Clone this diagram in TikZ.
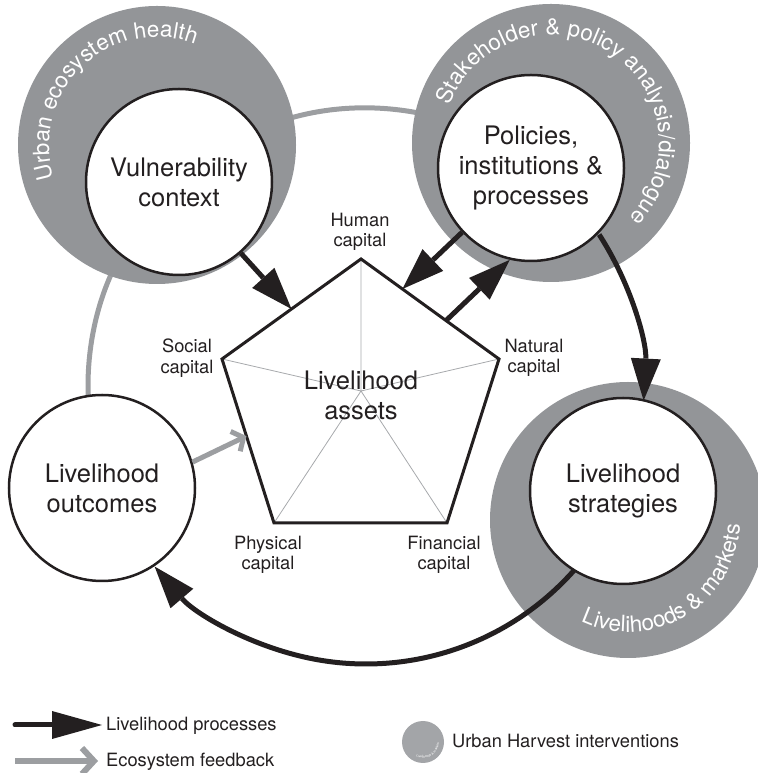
\documentclass[tikz,border=0pt]{standalone}
\usepackage{fontspec}
\setmainfont{TeX Gyre Heros}
\usetikzlibrary{arrows.meta,decorations.text,calc}
\definecolor{ink}{HTML}{231F20}
\definecolor{ringgray}{HTML}{939598}
\definecolor{feedgray}{HTML}{9C9EA1}
\definecolor{spokegray}{HTML}{A7A9AC}
\newcommand\bigf{\fontsize{25.5}{30}\selectfont}
\newcommand\smallf{\fontsize{18.3}{20.5}\selectfont}
\newcommand\ringf{\fontsize{22.5}{22.5}\selectfont}
\newcommand\tinyringf{\fontsize{3.2}{3.2}\selectfont}
\tikzset{
  proc/.style={circle, draw=ink, line width=2.5pt, fill=white, minimum size=186pt, inner sep=0pt, align=center, font=\bigf, text=ink},
  ringfill/.style={fill=ringgray},
  procarrow/.style={draw=ink, line width=5pt, -{Triangle[length=42pt,width=30pt,line width=0pt]}},
  feedback/.style={draw=feedgray, line width=5pt, -{Straight Barb[length=9pt,width=22pt]}},
  caplabel/.style={align=center, font=\smallf, text=ink, inner sep=0pt},
}
\begin{document}
\begin{tikzpicture}[x=1pt,y=1pt]
\useasboundingbox (0,0) rectangle (757,773);
% geometry
\coordinate (C) at (366,387);
\coordinate (vulg) at (157,628);
\coordinate (polg) at (551,630);
\coordinate (strg) at (628,253);
% feedback arcs (under the rings)
\draw[feedback] ($(C)+(182:278)$) arc[start angle=182, end angle=152, radius=278];
\draw[feedback] ($(C)+(72.3:278)$) arc[start angle=72.3, end angle=113.2, radius=278];
% rings
\fill[ringfill] (vulg) circle[radius=139];
\fill[ringfill] (polg) circle[radius=139];
\fill[ringfill] (strg) circle[radius=138];
% ring texts
\path[decorate, decoration={text along path, text color=white, text align=left,
  text={|\ringf|Urban ecosystem health}}]
  ($(vulg)+(198:108)$) arc[start angle=198, end angle=20, radius=108];
\path[decorate, decoration={text along path, text color=white, text align=left,
  text={|\ringf|Stakeholder {\&} policy analysis/dialogue}}]
  ($(polg)+(160:108)$) arc[start angle=160, end angle=-90, radius=108];
\path[decorate, decoration={text along path, text color=white, text align=left,
  text={|\ringf|Livelihoods {\&} markets}}]
  ($(strg)+(245:112)$) arc[start angle=245, end angle=400, radius=112];
% livelihood process arcs
\draw[procarrow] ($(C)+(33:278)$) arc[start angle=33, end angle=-3, radius=278];
\draw[procarrow] ($(C)+(-41.5:278)$) arc[start angle=-41.5, end angle=-139.5, radius=278];
% process circles
\node[proc] (vul) at (179,591) {Vulnerability\\context};
\node[proc] (pol) at (531,605) {Policies,\\institutions \&\\processes};
\node[proc] (str) at (623,282) {Livelihood\\strategies};
\node[proc] (out) at (102,285) {Livelihood\\outcomes};
% pentagon
\coordinate (Pt) at (361,514);
\coordinate (Pl) at (222,414);
\coordinate (Pr) at (499,414);
\coordinate (Pbl) at (274,250);
\coordinate (Pbr) at (447,250);
\coordinate (Pc) at (361,382);
\draw[spokegray, line width=0.8pt] (Pc) -- (Pt) (Pc) -- (Pl) (Pc) -- (Pr) (Pc) -- (Pbl) (Pc) -- (Pbr);
\draw[ink, line width=3pt, line join=miter] (Pt) -- (Pr) -- (Pbr) -- (Pbl) -- (Pl) -- cycle;
\node[font=\bigf, align=center, text=ink, inner sep=0pt] (assets) at (361,378) {Livelihood\\assets};
\node[caplabel] (human) at (360,541) {Human\\capital};
\node[caplabel] (natural) at (534,415) {Natural\\capital};
\node[caplabel] (social) at (187,415) {Social\\capital};
\node[caplabel] (physical) at (268,218) {Physical\\capital};
\node[caplabel] (financial) at (444,218) {Financial\\capital};
% straight arrows
\draw[procarrow] (vul.-49) -- ($(Pt)!0.5!(Pl)$);
\draw[procarrow] (pol.-137) -- ($(Pt)!0.3!(Pr)$);
\draw[procarrow] ($(Pt)!0.616!(Pr)$) -- (pol.257);
\draw[feedback] (out.16) -- ($(Pl)!0.47!(Pbl)$);
% legend
\coordinate (l1s) at (15,48);
\coordinate (l1e) at (102,48);
\draw[ink, line width=5pt, line cap=round, -{Triangle[length=50pt,width=28pt,line width=0pt]}] (l1s) -- (l1e);
\node[anchor=base west, font=\smallf, text=ink, inner sep=0pt] (lg1) at (106,42) {Livelihood processes};
\coordinate (l2s) at (15,12);
\coordinate (l2e) at (98,12);
\draw[feedgray, line width=6pt, -{Straight Barb[length=12pt,width=26pt]}] (l2s) -- (l2e);
\node[anchor=base west, font=\smallf, text=ink, inner sep=0pt] (lg2) at (106,6) {Ecosystem feedback};
\coordinate (lgc) at (423,31);
\fill[ringgray!85] (lgc) circle[radius=21];
\path[decorate, decoration={text along path, text color=white, text align=left,
  text={|\tinyringf|Livelihoods {\&} markets}}]
  ($(lgc)+(245:16)$) arc[start angle=245, end angle=400, radius=16];
\node[anchor=base west, font=\smallf, text=ink, inner sep=0pt] (lg3) at (452,25) {Urban Harvest interventions};
\end{tikzpicture}
\end{document}
